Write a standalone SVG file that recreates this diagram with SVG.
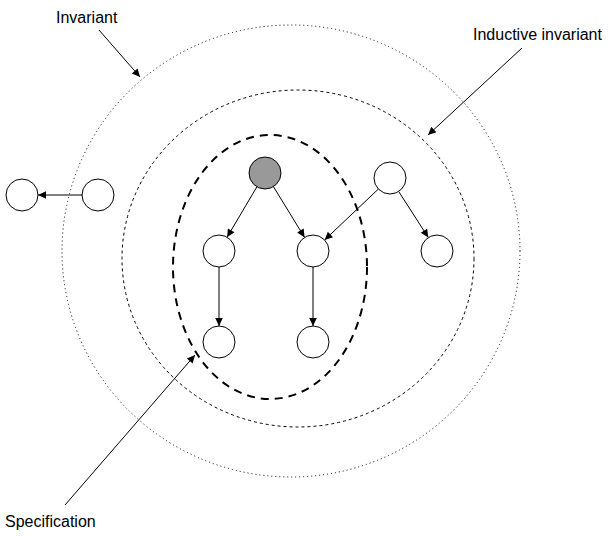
<svg xmlns="http://www.w3.org/2000/svg" width="609" height="536" viewBox="0 0 609 536">
<style>
.node{fill:#fff;stroke:#000;stroke-width:1}
.start{fill:#999}
.edge{stroke:#000;stroke-width:1;fill:none;marker-end:url(#arr)}
.lbl{font-family:"Liberation Sans",Arial,sans-serif;font-size:16px;fill:#000}
.region{fill:none;stroke:#000}
</style>
<defs>
<marker id="arr" markerUnits="userSpaceOnUse" markerWidth="10" markerHeight="10" viewBox="0 0 10 10" refX="9" refY="5" orient="auto">
<path d="M1,1.2 L9,5 L1,8.8 Z" fill="#000"/>
</marker>
</defs>
<rect width="609" height="536" fill="#fff"/>
<g id="regions">
<ellipse id="invariant-region" class="region" cx="291" cy="251" rx="229" ry="226" stroke-width="1" stroke-dasharray="1 3"/>
<ellipse id="inductive-region" class="region" cx="298" cy="258.5" rx="176" ry="168.5" stroke-width="1" stroke-dasharray="3 3"/>
<ellipse id="spec-region" class="region" cx="270" cy="267" rx="97" ry="132" stroke-width="2" stroke-dasharray="8 6"/>
</g>
<g id="connectors">
<path class="edge" d="M256.9,186.8 L227.1,237.2"/>
<path class="edge" d="M273.4,186.6 L304.6,237.4"/>
<path class="edge" d="M378.4,189 L324.6,240"/>
<path class="edge" d="M398.7,191.5 L428.3,237.5"/>
<path class="edge" d="M219,267 L219,326"/>
<path class="edge" d="M313,267 L313,326"/>
<path class="edge" d="M82,195 L38,195"/>
<path class="edge" d="M99,30 L140,77"/>
<path class="edge" d="M522,48 L428,135"/>
<path class="edge" d="M65,505 L195,355"/>
</g>
<g id="n-init"><circle class="node start" cx="265" cy="173" r="16"/></g>
<g id="n-tr"><circle class="node" cx="390" cy="178" r="16"/></g>
<g id="n-ml"><circle class="node" cx="219" cy="251" r="16"/></g>
<g id="n-mm"><circle class="node" cx="313" cy="251" r="16"/></g>
<g id="n-mr"><circle class="node" cx="437" cy="251" r="16"/></g>
<g id="n-bl"><circle class="node" cx="219" cy="342" r="16"/></g>
<g id="n-bm"><circle class="node" cx="313" cy="342" r="16"/></g>
<g id="n-l1"><circle class="node" cx="22" cy="195" r="16"/></g>
<g id="n-l2"><circle class="node" cx="98" cy="195" r="16"/></g>
<g id="labels">
<text class="lbl" x="56" y="23">Invariant</text>
<text class="lbl" x="473" y="40">Inductive invariant</text>
<text class="lbl" x="5" y="527">Specification</text>
</g>
</svg>
